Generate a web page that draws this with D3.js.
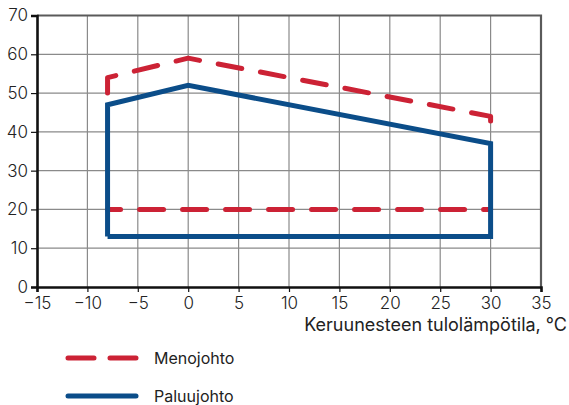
<!DOCTYPE html>
<html>
<head>
<meta charset="utf-8">
<script src="https://cdn.jsdelivr.net/npm/d3@7"></script>
<style>
  body { margin: 0; background: #fff; }
  text { font-family: Inter, "Noto Sans", sans-serif; font-weight: 400; fill: #222; }
</style>
</head>
<body>
<div id="chart"></div>
<script>
// Data
const menoX = [-8, -8, 0, 30, 30];
const menoY = [50, 54, 59, 44, 40];
const menoBaseX = [-8, 30];
const menoBaseY = [20, 20];
const paluuX = [-8, -8, 0, 30, 30, -8];
const paluuY = [13, 47, 52, 37, 13, 13];
const xTicks = [-15, -10, -5, 0, 5, 10, 15, 20, 25, 30, 35];
const yTicks = [0, 10, 20, 30, 40, 50, 60, 70];
const seriesNames = ["Menojohto", "Paluujohto"];

const width = 569, height = 405;
const margin = { left: 37, right: 28, top: 15.5, bottom: 118 };
const red = "#cc2235", blue = "#0b4d89";
const font = 'Inter, "Noto Sans", sans-serif';

const svg = d3.select('#chart').append('svg')
    .attr('width', width)
    .attr('height', height);

const x = d3.scaleLinear().domain([-15, 35]).range([margin.left, width - margin.right]);
const y = d3.scaleLinear().domain([0, 70]).range([height - margin.bottom, margin.top]);

// grid
svg.append('g').selectAll('line').data(xTicks.slice(1, -1)).enter().append('line')
    .attr('x1', d => x(d)).attr('x2', d => x(d))
    .attr('y1', y(0)).attr('y2', y(70))
    .attr('stroke', '#8a8a8a').attr('stroke-width', 1.2);
svg.append('g').selectAll('line').data(yTicks.slice(1, -1)).enter().append('line')
    .attr('x1', x(-15)).attr('x2', x(35))
    .attr('y1', d => y(d)).attr('y2', d => y(d))
    .attr('stroke', '#8a8a8a').attr('stroke-width', 1.2);

// top & right border
svg.append('path')
    .attr('d', `M${x(-15)},${y(70)}H${x(35)}V${y(0)}`)
    .attr('fill', 'none').attr('stroke', '#5a5a5a').attr('stroke-width', 2.2);

// axes
const xAxis = svg.append('g')
    .attr('transform', `translate(0,${y(0)})`)
    .call(d3.axisBottom(x).tickValues(xTicks).tickSize(5).tickPadding(3)
        .tickFormat(d => d < 0 ? '\u2212' + Math.abs(d) : d));
const yAxis = svg.append('g')
    .attr('transform', `translate(${x(-15)},0)`)
    .call(d3.axisLeft(y).tickValues(yTicks).tickSize(6).tickPadding(3));
[xAxis, yAxis].forEach(a => {
    a.select('.domain').attr('stroke', '#111').attr('stroke-width', 2.6);
    a.selectAll('.tick line').attr('stroke', '#111').attr('stroke-width', 1.2);
    a.selectAll('.tick text').style('font-size', '17px').attr('fill', '#333')
        .style('font-family', font).style('font-weight', 300);
});
xAxis.selectAll('.tick text').attr('dy', '0.8em');

svg.append('text')
    .attr('x', 567).attr('y', 331)
    .attr('text-anchor', 'end')
    .style('font-size', '18px')
    .text('Keruunesteen tulolämpötila, °C');

// series
const line = d3.line().x(d => x(d[0])).y(d => y(d[1]));

svg.append('path')
    .datum(d3.zip(menoBaseX, menoBaseY))
    .attr('d', line)
    .attr('fill', 'none').attr('stroke', red).attr('stroke-width', 5)
    .attr('stroke-linecap', 'round')
    .attr('stroke-dasharray', '24,19').attr('stroke-dashoffset', 11);

svg.append('path')
    .datum(d3.zip(menoX, menoY))
    .attr('d', line)
    .attr('fill', 'none').attr('stroke', red).attr('stroke-width', 5)
    .attr('stroke-linecap', 'round').attr('stroke-linejoin', 'round')
    .attr('stroke-dasharray', '24,19');

svg.append('path')
    .datum(d3.zip(paluuX, paluuY))
    .attr('d', line)
    .attr('fill', 'none').attr('stroke', blue).attr('stroke-width', 5)
    .attr('stroke-linejoin', 'miter');

// legend
const legend = svg.append('g');
const legendY = [358, 396];
seriesNames.forEach((name, i) => {
    legend.append('line')
        .attr('x1', 68).attr('x2', 136)
        .attr('y1', legendY[i]).attr('y2', legendY[i])
        .attr('stroke', i === 0 ? red : blue).attr('stroke-width', 5)
        .attr('stroke-linecap', 'round')
        .attr('stroke-dasharray', i === 0 ? '26,16' : null);
    legend.append('text')
        .attr('x', 154).attr('y', legendY[i] + 6)
        .style('font-size', '16px')
        .text(name);
});
</script>
</body>
</html>
